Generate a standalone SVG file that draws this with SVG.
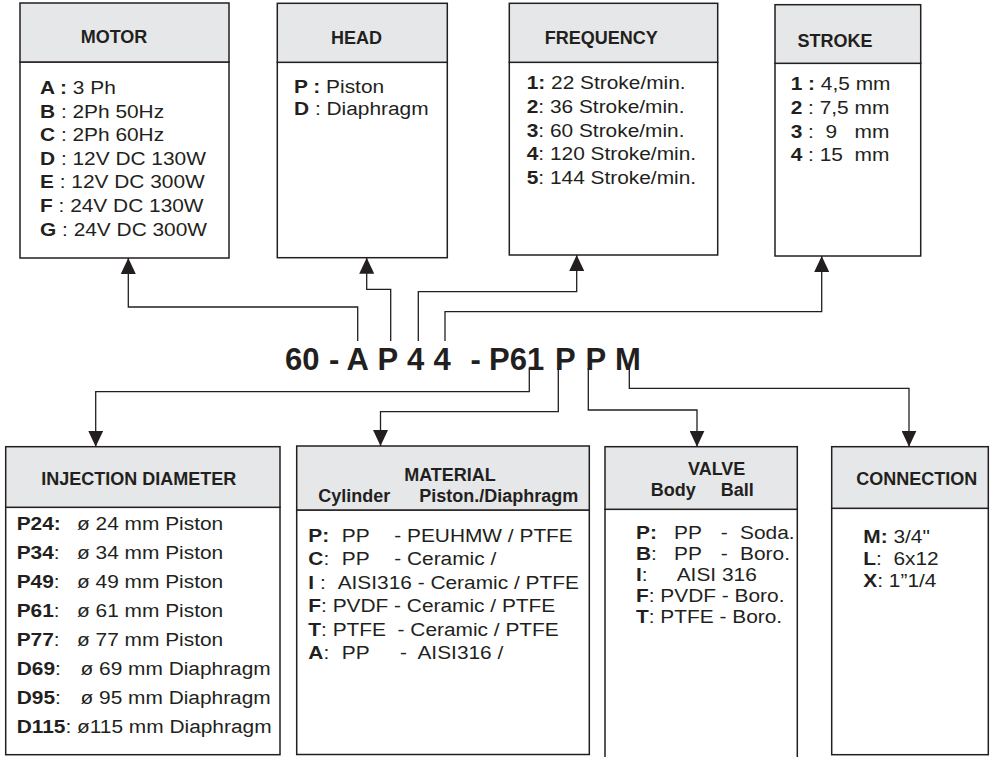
<svg xmlns="http://www.w3.org/2000/svg" width="990" height="757" viewBox="0 0 990 757" xml:space="preserve">
<style>
text { font-family: "Liberation Sans", Arial, Helvetica, sans-serif; fill: #231f20; white-space: pre; }
.h { font-size: 18px; font-weight: bold; text-anchor: middle; }
.hs { font-size: 18px; font-weight: bold; }
.t { font-size: 18px; }
.b { font-weight: bold; }
.code { font-size: 31px; font-weight: bold; }
.hd { fill: #e6e7e8; stroke: #231f20; stroke-width: 1.5; }
.bx { fill: #ffffff; stroke: #231f20; stroke-width: 1.5; }
.cn { fill: none; stroke: #231f20; stroke-width: 1.3; }
</style>
<defs>
<marker id="ah" markerUnits="userSpaceOnUse" markerWidth="16" markerHeight="15" refX="16" refY="7.5" orient="auto"><path d="M0,0 L16,7.5 L0,15 Z" fill="#231f20"/></marker>
</defs>
<g id="motor">
<rect class="bx" x="20" y="62" width="209" height="196"/>
<rect class="hd" x="20" y="3" width="209" height="59"/>
<text class="h" x="114" y="43">MOTOR</text>
<g transform="translate(40,0) scale(1.16,1)">
<text class="t" x="0" y="94"><tspan class="b">A :</tspan> 3 Ph</text>
<text class="t" x="0" y="117.6"><tspan class="b">B</tspan> : 2Ph 50Hz</text>
<text class="t" x="0" y="141.2"><tspan class="b">C</tspan> : 2Ph 60Hz</text>
<text class="t" x="0" y="164.8"><tspan class="b">D</tspan> : 12V DC 130W</text>
<text class="t" x="0" y="188.4"><tspan class="b">E</tspan> : 12V DC 300W</text>
<text class="t" x="0" y="212"><tspan class="b">F</tspan> : 24V DC 130W</text>
<text class="t" x="0" y="235.6"><tspan class="b">G</tspan> : 24V DC 300W</text>
</g>
</g>
<g id="head">
<rect class="bx" x="277.3" y="62.3" width="170" height="195.4"/>
<rect class="hd" x="277.3" y="3.3" width="170" height="59"/>
<text class="h" x="356.4" y="44">HEAD</text>
<g transform="translate(294,0) scale(1.16,1)">
<text class="t" x="0" y="93.3"><tspan class="b">P :</tspan> Piston</text>
<text class="t" x="0" y="115"><tspan class="b">D</tspan> : Diaphragm</text>
</g>
</g>
<g id="frequency">
<rect class="bx" x="509.3" y="62.3" width="208.4" height="192.7"/>
<rect class="hd" x="509.3" y="3.3" width="208.4" height="59"/>
<text class="h" x="601.3" y="44">FREQUENCY</text>
<g transform="translate(526.7,0) scale(1.16,1)">
<text class="t" x="0" y="89.3"><tspan class="b">1:</tspan> 22 Stroke/min.</text>
<text class="t" x="0" y="113"><tspan class="b">2</tspan>: 36 Stroke/min.</text>
<text class="t" x="0" y="136.7"><tspan class="b">3</tspan>: 60 Stroke/min.</text>
<text class="t" x="0" y="160.4"><tspan class="b">4</tspan>: 120 Stroke/min.</text>
<text class="t" x="0" y="184.1"><tspan class="b">5</tspan>: 144 Stroke/min.</text>
</g>
</g>
<g id="stroke">
<rect class="bx" x="775" y="63.3" width="145.7" height="192.7"/>
<rect class="hd" x="775" y="4.7" width="145.7" height="58.6"/>
<text class="h" x="835" y="46.7">STROKE</text>
<g transform="translate(790.7,0) scale(1.16,1)">
<text class="t" x="0" y="90"><tspan class="b">1 :</tspan> 4,5 mm</text>
<text class="t" x="0" y="113.8"><tspan class="b">2</tspan> : 7,5 mm</text>
<text class="t" x="0" y="137.6"><tspan class="b">3</tspan> :  9   mm</text>
<text class="t" x="0" y="161.4"><tspan class="b">4</tspan> : 15  mm</text>
</g>
</g>
<g id="code">
<text class="code" y="370"><tspan x="285">60</tspan> <tspan x="329">-</tspan> <tspan x="346.5">A</tspan> <tspan x="377.5">P</tspan> <tspan x="407">4</tspan> <tspan x="433.5">4</tspan>  <tspan x="470.5">-</tspan> <tspan x="489">P61</tspan> <tspan x="555">P</tspan> <tspan x="585.5">P</tspan> <tspan x="615">M</tspan></text>
</g>
<g id="injection-diameter">
<rect class="bx" x="5.7" y="507.3" width="274.3" height="247.4"/>
<rect class="hd" x="5.7" y="446.7" width="274.3" height="60.6"/>
<text class="h" x="138.8" y="485">INJECTION DIAMETER</text>
<g transform="translate(16.7,0) scale(1.16,1)">
<text class="t" x="0" y="530"><tspan class="b">P24:</tspan><tspan x="52">ø 24 mm Piston</tspan></text>
<text class="t" x="0" y="559"><tspan class="b">P34</tspan>:<tspan x="52">ø 34 mm Piston</tspan></text>
<text class="t" x="0" y="588"><tspan class="b">P49</tspan>:<tspan x="52">ø 49 mm Piston</tspan></text>
<text class="t" x="0" y="617"><tspan class="b">P61</tspan>:<tspan x="52">ø 61 mm Piston</tspan></text>
<text class="t" x="0" y="646"><tspan class="b">P77</tspan>:<tspan x="52">ø 77 mm Piston</tspan></text>
<text class="t" x="0" y="675"><tspan class="b">D69</tspan>:<tspan x="55">ø 69 mm Diaphragm</tspan></text>
<text class="t" x="0" y="704"><tspan class="b">D95</tspan>:<tspan x="55">ø 95 mm Diaphragm</tspan></text>
<text class="t" x="0" y="733"><tspan class="b">D115</tspan>: ø115 mm Diaphragm</text>
</g>
</g>
<g id="material">
<rect class="bx" x="296.7" y="510" width="292.6" height="244.5"/>
<rect class="hd" x="296.7" y="446" width="292.6" height="64"/>
<text class="h" x="450" y="481">MATERIAL</text>
<text class="hs" y="501.7"><tspan x="318.3">Cylinder</tspan> <tspan x="419.3">Piston./Diaphragm</tspan></text>
<g transform="translate(308.3,0) scale(1.16,1)">
<text class="t" x="0" y="541.7"><tspan class="b">P:</tspan><tspan x="28.8">PP</tspan><tspan x="74.1">- PEUHMW / PTFE</tspan></text>
<text class="t" x="0" y="565.2"><tspan class="b">C</tspan>:<tspan x="28.8">PP</tspan><tspan x="74.1">- Ceramic /</tspan></text>
<text class="t" x="0" y="588.7"><tspan class="b">I</tspan> :<tspan x="25.3">AISI316 - Ceramic / PTFE</tspan></text>
<text class="t" x="0" y="612.2"><tspan class="b">F</tspan>: PVDF - Ceramic / PTFE</text>
<text class="t" x="0" y="635.7"><tspan class="b">T</tspan>: PTFE  - Ceramic / PTFE</text>
<text class="t" x="0" y="659.2"><tspan class="b">A</tspan>:<tspan x="28.8">PP</tspan><tspan x="79.1">-  AISI316 /</tspan></text>
</g>
</g>
<g id="valve">
<rect class="bx" x="605" y="509.3" width="192.3" height="252"/>
<rect class="hd" x="605" y="446.7" width="192.3" height="62.6"/>
<text class="h" x="716.7" y="475">VALVE</text>
<text class="hs" y="496"><tspan x="650.7">Body</tspan> <tspan x="720.7">Ball</tspan></text>
<g transform="translate(636,0) scale(1.16,1)">
<text class="t" x="0" y="539.5"><tspan class="b">P:</tspan><tspan x="32.8">PP</tspan><tspan x="73">-</tspan><tspan x="89.7">Soda.</tspan></text>
<text class="t" x="0" y="560.3"><tspan class="b">B</tspan>:<tspan x="32.8">PP</tspan><tspan x="73">-</tspan><tspan x="89.7">Boro.</tspan></text>
<text class="t" x="0" y="581.1"><tspan class="b">I</tspan>:<tspan x="35.1">AISI 316</tspan></text>
<text class="t" x="0" y="601.9"><tspan class="b">F</tspan>: PVDF - Boro.</text>
<text class="t" x="0" y="622.7"><tspan class="b">T</tspan>: PTFE - Boro.</text>
</g>
</g>
<g id="connection">
<rect class="bx" x="831.7" y="508.3" width="156.6" height="246.4"/>
<rect class="hd" x="831.7" y="446.7" width="156.6" height="61.6"/>
<text class="h" x="916.7" y="485">CONNECTION</text>
<g transform="translate(863.3,0) scale(1.16,1)">
<text class="t" x="0" y="542.7"><tspan class="b">M:</tspan> 3/4"</text>
<text class="t" x="0" y="565"><tspan class="b">L</tspan>:  6x12</text>
<text class="t" x="0" y="587"><tspan class="b">X</tspan>: 1”1/4</text>
</g>
</g>
<g id="connectors">
<path class="cn" marker-end="url(#ah)" d="M357.7,341 V307 H128.3 V258"/>
<path class="cn" marker-end="url(#ah)" d="M390.7,341 V289.3 H366.7 V257.7"/>
<path class="cn" marker-end="url(#ah)" d="M418.3,341 V291.7 H576.7 V255"/>
<path class="cn" marker-end="url(#ah)" d="M445,341 V311.7 H821.7 V256"/>
<path class="cn" marker-end="url(#ah)" d="M529.3,368 V391.7 H95.7 V446.7"/>
<path class="cn" marker-end="url(#ah)" d="M558.3,368 V411.7 H380.5 V446"/>
<path class="cn" marker-end="url(#ah)" d="M588.3,368 V410 H697 V446.7"/>
<path class="cn" marker-end="url(#ah)" d="M629.3,368 V388.3 H909 V446.7"/>
</g>
</svg>
